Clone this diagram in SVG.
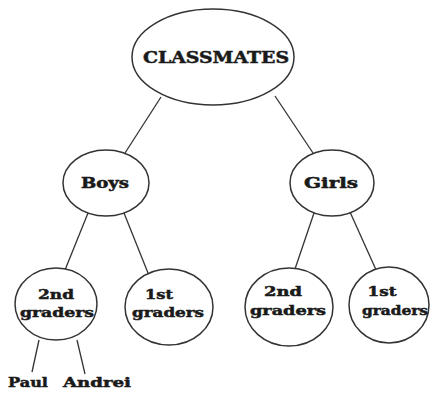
<svg xmlns="http://www.w3.org/2000/svg" width="431" height="393" viewBox="0 0 431 393">
<style>
.n{fill:#fff;stroke:#333;stroke-width:1.5}
.c{stroke:#333;stroke-width:1.3;fill:none}
.t{font-family:"DejaVu Serif","Liberation Serif",serif;font-weight:bold;fill:#1a1a1a;stroke:#1a1a1a;stroke-width:0.5;text-anchor:middle}
</style>
<rect width="431" height="393" fill="#fff"/>
<g id="connectors">
<line class="c" x1="161" y1="97" x2="125" y2="153"/>
<line class="c" x1="275" y1="96" x2="313" y2="153"/>
<line class="c" x1="88" y1="213" x2="65" y2="270"/>
<line class="c" x1="124" y1="213" x2="148" y2="273"/>
<line class="c" x1="314" y1="213" x2="295" y2="269"/>
<line class="c" x1="350" y1="212" x2="377" y2="272"/>
<line class="c" x1="39" y1="340" x2="32" y2="372"/>
<line class="c" x1="77" y1="340" x2="85" y2="374"/>
</g>
<g id="classmates">
<ellipse class="n" cx="213" cy="57" rx="81" ry="48"/>
<text class="t" x="216" y="63" font-size="16" textLength="146" lengthAdjust="spacingAndGlyphs">CLASSMATES</text>
</g>
<g id="boys">
<ellipse class="n" cx="106" cy="183" rx="43" ry="33"/>
<text class="t" x="105" y="188" font-size="14" textLength="48" lengthAdjust="spacingAndGlyphs">Boys</text>
</g>
<g id="girls">
<ellipse class="n" cx="332" cy="183" rx="42" ry="33"/>
<text class="t" x="331" y="188" font-size="14" textLength="54" lengthAdjust="spacingAndGlyphs">Girls</text>
</g>
<g id="boys-2nd">
<ellipse class="n" cx="56" cy="304" rx="41" ry="36"/>
<text class="t" x="56" y="299" font-size="13" textLength="36" lengthAdjust="spacingAndGlyphs">2nd</text>
<text class="t" x="57" y="317" font-size="13" textLength="74" lengthAdjust="spacingAndGlyphs">graders</text>
</g>
<g id="boys-1st">
<ellipse class="n" cx="169" cy="307" rx="44" ry="38"/>
<text class="t" x="159" y="299" font-size="13" textLength="28" lengthAdjust="spacingAndGlyphs">1st</text>
<text class="t" x="168" y="317" font-size="13" textLength="72" lengthAdjust="spacingAndGlyphs">graders</text>
</g>
<g id="girls-2nd">
<ellipse class="n" cx="289" cy="307" rx="44" ry="39"/>
<text class="t" x="283" y="296" font-size="13" textLength="38" lengthAdjust="spacingAndGlyphs">2nd</text>
<text class="t" x="288" y="315" font-size="13" textLength="76" lengthAdjust="spacingAndGlyphs">graders</text>
</g>
<g id="girls-1st">
<ellipse class="n" cx="389" cy="305" rx="40" ry="38"/>
<text class="t" x="382" y="296" font-size="13" textLength="29" lengthAdjust="spacingAndGlyphs">1st</text>
<text class="t" x="395" y="315" font-size="13" textLength="66" lengthAdjust="spacingAndGlyphs">graders</text>
</g>
<g id="paul">
<text class="t" x="28" y="387" font-size="13" textLength="40" lengthAdjust="spacingAndGlyphs">Paul</text>
</g>
<g id="andrei">
<text class="t" x="97" y="387" font-size="13" textLength="68" lengthAdjust="spacingAndGlyphs">Andrei</text>
</g>
</svg>
